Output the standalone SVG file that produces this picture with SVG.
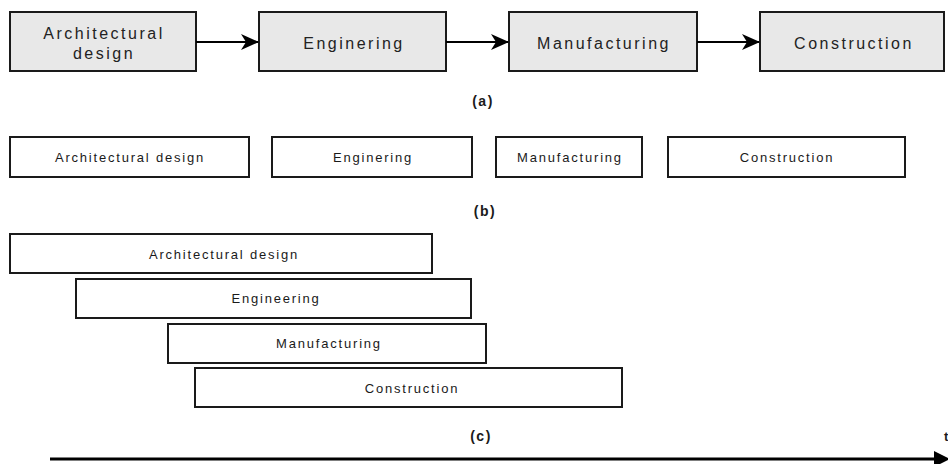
<svg xmlns="http://www.w3.org/2000/svg" width="948" height="464" viewBox="0 0 948 464">
<style>
.ga{fill:#e8e8e8;stroke:#1a1a1a;stroke-width:2}
.gb{fill:#fff;stroke:#1a1a1a;stroke-width:2}
.ta{font-family:"Liberation Sans",Arial,sans-serif;font-size:16px;fill:#222;text-anchor:middle;letter-spacing:2.5px}
.tb{font-family:"Liberation Sans",Arial,sans-serif;font-size:13px;fill:#1a1a1a;text-anchor:middle;letter-spacing:1.8px}
.lab{font-family:"Liberation Sans",Arial,sans-serif;font-size:14px;font-weight:bold;fill:#1a1a1a;text-anchor:middle;letter-spacing:1.5px}
.con{stroke:#000;stroke-width:2;fill:none}
</style>
<defs>
<marker id="ah" markerWidth="18" markerHeight="16" refX="17" refY="8" orient="auto" markerUnits="userSpaceOnUse">
<path d="M0,0 L18,8 L0,16 L5,8 Z" fill="#000"/>
</marker>
</defs>
<g id="a-arch"><rect class="ga" x="10" y="12" width="186" height="59"/><text class="ta" x="104" y="39">Architectural</text><text class="ta" x="104" y="59">design</text></g>
<g id="a-eng"><rect class="ga" x="259" y="12" width="187" height="59"/><text class="ta" x="354" y="49">Enginering</text></g>
<g id="a-man"><rect class="ga" x="509" y="12" width="188" height="59"/><text class="ta" x="604" y="49">Manufacturing</text></g>
<g id="a-con"><rect class="ga" x="760" y="12" width="184" height="59"/><text class="ta" x="854" y="49">Construction</text></g>
<g id="connectors">
<line class="con" x1="196" y1="42" x2="258" y2="42" marker-end="url(#ah)"/>
<line class="con" x1="446" y1="42" x2="508" y2="42" marker-end="url(#ah)"/>
<line class="con" x1="697" y1="42" x2="759" y2="42" marker-end="url(#ah)"/>
</g>
<text class="lab" x="483" y="106">(a)</text>
<g id="b-arch"><rect class="gb" x="10" y="137" width="239" height="40"/><text class="tb" x="130" y="162">Architectural design</text></g>
<g id="b-eng"><rect class="gb" x="272" y="137" width="200" height="40"/><text class="tb" x="373" y="162">Enginering</text></g>
<g id="b-man"><rect class="gb" x="496" y="137" width="146" height="40"/><text class="tb" x="570" y="162">Manufacturing</text></g>
<g id="b-con"><rect class="gb" x="668" y="137" width="237" height="40"/><text class="tb" x="787" y="162">Construction</text></g>
<text class="lab" x="485" y="216">(b)</text>
<g id="c-arch"><rect class="gb" x="10" y="234" width="422" height="39"/><text class="tb" x="224" y="259">Architectural design</text></g>
<g id="c-eng"><rect class="gb" x="76" y="279" width="395" height="39"/><text class="tb" x="276" y="303">Engineering</text></g>
<g id="c-man"><rect class="gb" x="168" y="324" width="318" height="39"/><text class="tb" x="329" y="348">Manufacturing</text></g>
<g id="c-con"><rect class="gb" x="195" y="368" width="427" height="39"/><text class="tb" x="412" y="393">Construction</text></g>
<text class="lab" x="481" y="441">(c)</text>
<g id="time">
<line x1="50" y1="459" x2="936" y2="459" stroke="#000" stroke-width="3"/>
<path d="M934,451 L950,459 L934,467 Z" fill="#000"/>
<text x="944" y="441" style="font-family:'Liberation Sans',Arial,sans-serif;font-size:13px;font-weight:bold;fill:#1a1a1a">t</text>
</g>
</svg>
